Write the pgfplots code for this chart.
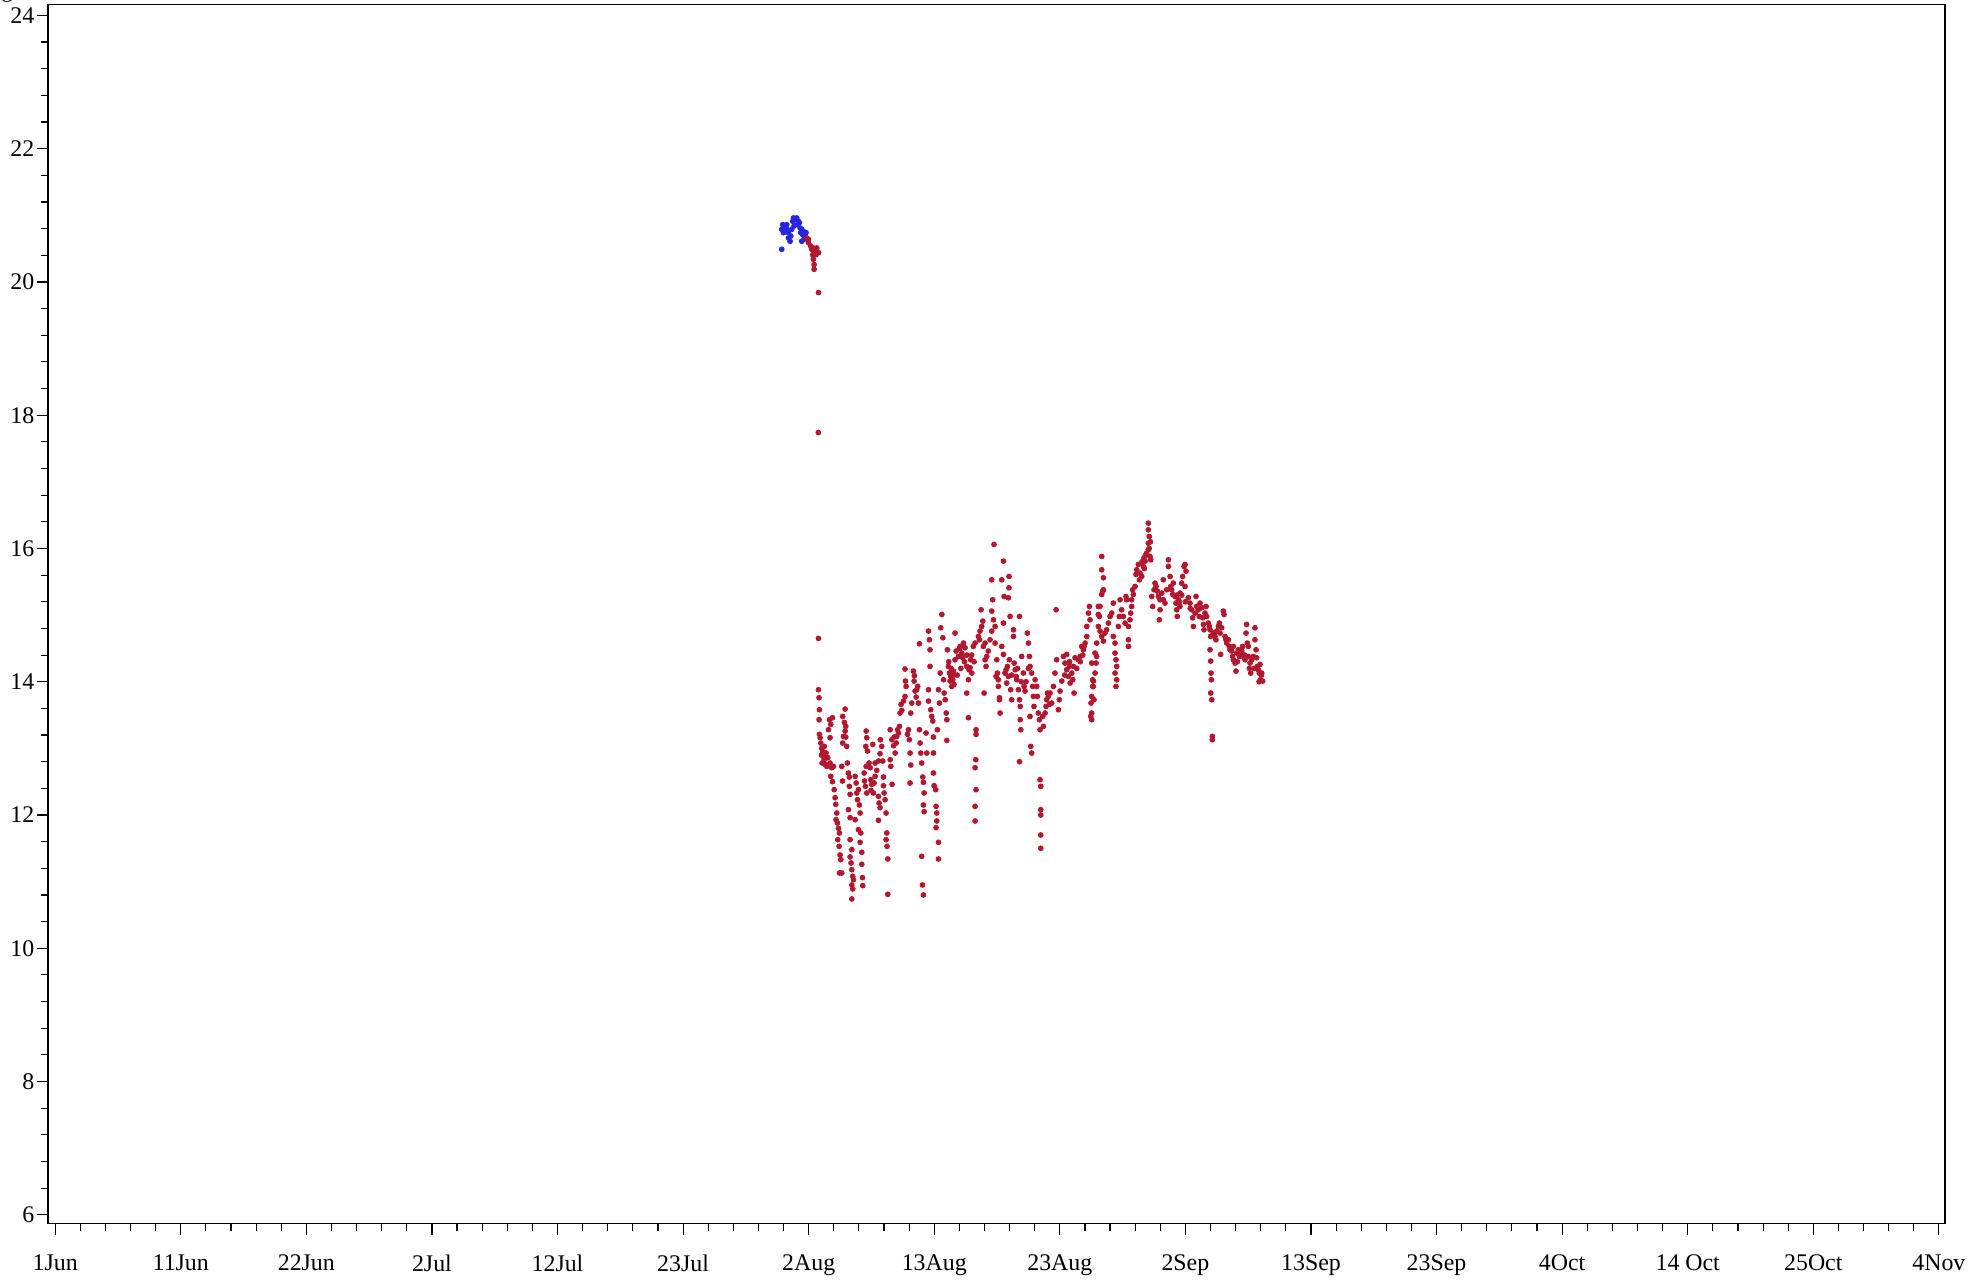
\documentclass[border=0pt]{standalone}
\usepackage{fontspec}
\setmainfont{Liberation Serif}
\usepackage{pgfplots}
\pgfplotsset{compat=1.18}

\definecolor{ptred}{RGB}{178,24,46}
\definecolor{ptblue}{RGB}{38,38,222}

% x = days since 1 Jun, y = value
\pgfplotstableread{
x y
60.17 20.49
60.17 20.79
60.25 20.86
60.31 20.74
60.45 20.84
60.58 20.79
60.58 20.86
60.72 20.74
60.72 20.66
60.86 20.61
60.92 20.69
61.00 20.79
61.08 20.91
61.14 20.96
61.27 20.94
61.41 20.96
61.55 20.91
61.63 20.89
61.69 20.81
61.74 20.74
61.83 20.79
61.91 20.71
61.96 20.76
62.10 20.69
62.18 20.74
61.83 20.61
62.00 20.64
61.19 20.84
61.47 20.86
}\bluedata

\pgfplotstableread{
x y
62.24 20.66
62.38 20.64
62.38 20.59
62.57 20.54
62.65 20.49
62.79 20.51
62.93 20.46
63.07 20.51
63.21 20.44
63.01 20.41
62.74 20.41
62.79 20.34
62.85 20.26
62.85 20.19
63.21 19.84
63.20 17.74
63.21 14.65
63.21 13.88
63.26 13.76
63.29 13.58
63.26 13.43
63.29 13.21
63.35 13.16
63.40 13.08
63.48 13.00
63.57 12.95
63.46 12.90
63.62 12.88
63.68 12.83
63.51 12.78
63.76 12.76
63.90 12.73
63.84 12.93
63.98 12.86
64.17 12.78
64.31 12.71
64.45 12.73
63.70 13.03
64.12 13.43
64.23 13.36
64.37 13.46
64.04 13.28
64.17 13.16
64.23 12.58
64.37 12.50
64.51 12.38
64.59 12.26
64.64 12.16
64.73 12.03
64.78 11.88
64.87 11.80
64.95 11.73
64.81 11.63
64.92 11.53
65.00 11.40
65.06 11.33
64.95 11.13
65.14 11.13
64.67 11.93
65.42 13.59
65.22 13.48
65.36 13.39
65.47 13.33
65.42 13.26
65.28 13.18
65.47 13.17
65.22 13.08
65.55 13.03
65.14 12.73
65.20 12.51
65.61 12.78
65.69 12.63
65.77 12.57
65.77 12.43
65.83 12.31
65.69 12.08
65.83 11.96
65.83 11.63
65.97 11.48
65.83 11.37
65.91 11.28
65.97 11.18
66.05 11.08
65.97 10.95
66.05 10.89
65.97 10.74
66.11 11.03
66.25 12.58
66.33 12.48
66.38 12.33
66.44 12.23
66.25 11.93
66.60 12.15
66.66 12.03
66.52 11.78
66.72 11.73
66.66 11.59
66.80 11.44
66.80 11.26
66.86 11.06
66.88 10.94
66.52 12.38
67.16 13.26
67.21 13.16
67.13 13.03
67.27 12.96
67.40 12.78
67.16 12.73
66.99 12.63
67.02 12.51
67.10 12.43
67.21 12.33
67.49 12.71
67.71 13.06
67.54 12.53
67.62 12.46
67.57 12.37
67.76 12.33
67.90 12.58
67.90 12.78
68.04 12.67
68.18 12.81
68.31 12.92
68.34 13.13
68.45 13.03
68.18 12.28
68.23 12.18
68.18 11.92
68.31 12.11
68.59 12.57
68.59 12.44
68.65 12.33
68.73 12.23
68.81 12.03
68.87 11.73
68.81 11.63
68.89 11.53
68.95 11.34
68.95 10.81
68.54 12.81
67.82 12.48
69.15 13.28
69.29 13.13
69.43 13.04
69.56 12.93
69.48 13.17
69.70 13.18
69.65 13.08
69.83 13.23
69.92 13.33
69.76 13.28
69.15 12.83
69.20 12.73
69.31 12.46
69.97 13.53
70.11 13.57
70.05 13.66
70.25 13.71
70.38 13.78
70.47 13.93
70.41 14.01
70.38 14.19
70.66 13.28
70.58 13.21
70.74 13.13
70.80 12.93
70.85 12.75
70.80 12.48
71.07 14.16
71.13 14.01
71.21 13.86
71.30 13.77
71.35 13.88
71.43 13.93
71.16 14.09
70.94 13.68
70.85 13.53
71.57 14.57
71.49 13.68
71.57 13.28
71.63 13.08
71.68 12.93
71.76 12.78
71.85 12.57
71.90 12.49
71.96 12.33
71.90 12.15
71.96 12.05
71.76 11.38
71.82 10.95
71.90 10.80
72.18 12.93
72.12 13.23
72.32 14.76
72.40 14.63
72.45 14.48
72.45 14.23
72.32 13.88
72.32 13.71
72.51 13.58
72.59 13.48
72.68 13.41
72.73 13.17
72.73 12.93
72.73 12.63
72.79 12.44
72.92 12.38
72.95 12.13
73.01 12.03
73.01 11.91
72.95 11.81
73.15 11.59
73.15 11.34
73.06 13.28
73.23 13.68
73.29 14.13
73.34 14.81
73.43 15.01
73.51 14.66
73.15 13.88
73.57 14.03
73.62 13.83
73.71 13.73
73.79 13.53
73.84 13.12
73.84 13.43
73.97 14.23
74.06 14.13
74.11 14.01
74.25 13.93
74.39 14.16
74.52 14.33
74.61 14.46
74.52 14.73
73.89 14.48
74.17 14.08
74.33 14.03
74.44 13.96
74.80 14.38
74.94 14.53
75.08 14.43
75.22 14.58
75.35 14.51
75.49 14.23
75.63 14.03
75.77 14.21
75.82 14.33
76.04 14.53
76.18 14.58
75.49 13.83
75.63 13.46
76.26 13.28
76.26 13.21
76.24 12.83
76.18 12.71
76.26 12.38
76.18 12.13
76.18 11.91
75.16 14.36
75.68 14.18
75.91 14.13
74.00 14.30
74.20 14.20
74.70 14.10
75.00 14.20
75.30 14.30
75.50 14.40
75.90 14.40
76.10 14.30
74.40 14.10
74.90 14.50
76.46 14.68
76.59 14.76
76.73 14.83
76.82 14.91
76.68 15.08
76.87 14.53
77.01 14.33
77.09 14.23
77.15 14.38
77.01 14.58
76.93 13.83
76.54 14.63
77.28 14.46
77.42 14.63
77.56 14.76
77.56 15.06
77.64 15.23
77.56 15.53
77.75 16.06
77.70 14.93
77.84 14.83
77.84 14.58
77.98 14.33
78.03 14.13
78.11 14.03
78.11 13.93
78.20 13.73
78.25 13.53
78.20 13.76
77.92 14.08
78.39 15.53
78.53 15.81
78.58 15.28
78.53 14.88
78.39 14.53
78.53 14.41
78.66 14.13
78.80 13.98
78.86 14.23
78.94 14.08
79.02 14.33
78.94 15.26
78.99 15.41
78.99 15.58
79.08 14.98
79.13 13.88
79.21 13.73
78.75 14.18
79.36 14.78
79.36 14.68
79.42 14.28
79.50 14.18
79.64 14.03
79.77 13.88
79.86 13.73
79.92 13.63
79.92 13.43
79.97 13.28
79.86 12.80
79.86 14.98
80.04 14.38
80.18 14.13
80.24 13.93
80.32 13.86
79.58 14.08
79.20 14.10
79.70 14.20
80.00 14.00
80.40 14.00
80.60 14.20
80.51 14.73
80.60 14.58
80.68 14.38
80.73 14.23
80.87 14.13
80.95 13.93
81.01 13.78
81.06 13.63
80.73 13.48
80.79 13.03
80.87 12.93
81.29 13.93
81.34 13.78
81.42 13.53
81.51 13.43
81.56 13.28
81.56 12.53
81.62 12.43
81.62 12.08
81.62 12.00
81.62 11.70
81.62 11.50
81.15 14.03
81.78 13.48
81.84 13.33
81.98 13.53
82.06 13.63
82.11 13.73
82.25 13.78
82.39 13.83
82.53 13.68
82.67 13.93
82.80 14.13
82.89 15.08
82.94 14.33
83.08 13.58
83.16 13.73
83.22 13.86
83.36 14.01
82.34 13.66
82.17 13.83
83.50 14.38
83.63 14.28
83.77 14.18
83.91 14.08
83.77 14.41
84.05 13.98
84.19 14.13
84.33 14.23
84.46 14.36
84.38 13.83
83.99 14.23
84.27 14.03
83.60 14.10
84.00 14.30
84.60 14.20
84.90 14.30
85.10 14.40
84.74 14.33
84.88 14.38
85.01 14.53
85.15 14.48
85.29 14.58
85.43 14.68
85.43 14.83
85.57 15.03
85.65 15.13
85.70 14.93
85.84 14.28
85.92 14.03
85.97 13.93
86.03 13.73
85.84 13.53
85.84 13.43
86.11 14.43
86.25 14.58
86.39 15.13
86.39 15.01
85.21 14.53
86.67 15.88
86.67 15.68
86.81 15.56
86.75 15.36
86.67 15.31
86.53 15.13
86.48 14.98
86.39 14.83
86.53 14.76
86.67 14.68
86.81 14.61
86.94 14.73
87.08 14.78
87.22 14.88
87.36 14.98
86.81 15.38
86.25 14.38
86.20 14.28
86.12 14.13
85.98 14.01
85.92 13.93
85.84 13.78
85.78 13.68
85.76 13.48
87.50 15.03
87.63 15.18
87.63 14.68
87.77 14.58
87.77 14.43
87.85 14.33
87.91 14.23
87.77 14.13
87.91 14.03
87.85 13.93
88.05 14.83
88.13 14.98
88.19 15.23
88.32 15.08
88.46 14.98
88.60 14.88
88.68 15.28
88.74 15.23
88.88 14.83
88.88 14.63
88.88 14.53
89.01 14.93
89.07 15.03
89.15 15.13
89.15 15.23
89.29 15.31
89.23 15.38
89.43 15.43
89.51 15.61
89.57 15.68
89.70 15.76
89.79 15.53
89.84 15.63
89.98 15.58
90.12 15.73
90.26 15.81
90.17 15.86
90.39 15.93
90.53 15.98
90.53 16.08
90.61 16.18
90.53 16.28
90.53 16.38
90.67 15.88
90.73 15.83
90.00 15.80
90.30 15.90
90.60 16.00
90.70 16.10
90.20 15.70
90.81 15.28
90.89 15.13
91.00 15.38
91.08 15.48
91.17 15.43
91.28 15.36
91.36 15.28
91.50 15.23
91.50 15.08
91.44 14.93
91.64 15.33
91.77 15.23
91.77 15.53
91.91 15.18
92.05 15.38
92.19 15.83
92.19 15.73
92.33 15.58
92.38 15.43
92.46 15.38
92.55 15.31
92.60 15.48
92.74 15.28
92.82 15.18
92.88 15.08
92.93 14.98
93.02 15.23
93.15 15.33
93.29 15.48
93.37 15.58
93.49 15.73
93.57 15.76
93.65 15.66
93.57 15.43
93.15 15.13
92.90 15.30
93.10 15.20
93.30 15.30
93.60 15.20
94.00 15.10
93.84 15.26
93.98 15.18
94.12 15.08
94.20 14.96
94.26 14.83
94.40 15.03
94.48 15.28
94.53 15.13
94.67 15.08
94.75 14.98
94.81 15.18
94.95 15.11
95.03 14.96
95.09 14.86
95.14 14.78
95.22 15.03
95.31 15.13
95.36 14.98
95.50 14.88
95.58 14.83
95.64 14.78
95.69 14.68
95.64 14.48
95.69 14.31
95.72 14.13
95.75 14.03
95.69 13.83
95.78 13.73
95.83 13.18
95.83 13.13
95.91 14.73
96.05 14.68
96.13 14.63
96.19 14.76
96.33 14.83
96.41 14.88
96.47 14.73
96.52 14.41
96.60 14.81
96.74 15.06
96.80 15.01
96.88 14.68
96.96 14.63
97.02 14.58
97.16 14.63
97.24 14.53
97.29 14.48
97.43 14.46
97.51 14.38
97.57 14.33
97.71 14.28
97.79 14.16
97.57 14.53
97.85 14.43
97.98 14.48
98.07 14.38
98.12 14.43
98.26 14.46
98.34 14.53
98.40 14.38
98.54 14.33
98.62 14.73
98.67 14.86
98.73 14.58
98.81 14.53
98.81 14.38
98.95 14.28
99.01 14.13
99.09 14.33
99.23 14.38
99.36 14.81
99.36 14.63
99.45 14.48
99.50 14.36
99.56 14.23
99.64 14.18
99.72 14.13
99.78 14.26
99.92 14.13
100.00 14.01
99.83 14.03
97.90 14.30
98.50 14.40
98.90 14.20
99.30 14.20
99.70 14.00
99.90 14.10
99.50 14.20
}\reddata

\begin{document}
\begin{tikzpicture}
\useasboundingbox (0,0) rectangle (873pt,563.6pt);
\begin{axis}[
  at={(21.1pt,25.1pt)}, anchor=south west,
  width=834.7pt, height=536.4pt, scale only axis,
  xmin=-0.6, xmax=156.5,
  ymin=5.865, ymax=24.16,
  xtick={0,10.4,20.8,31.2,41.6,52,62.4,72.8,83.2,93.6,104,114.4,124.8,135.2,145.6,156},
  xticklabels={1Jun,11Jun,22Jun,2Jul,12Jul,23Jul,2Aug,13Aug,23Aug,2Sep,13Sep,23Sep,4Oct,14 Oct,25Oct,4Nov},
  ytick={6,8,...,24},
  minor x tick num=4, minor y tick num=4,
  tick align=outside, tick pos=left,
  major tick length=5pt, minor tick length=3pt,
  axis line style={line width=0.6pt},
  tick style={line width=0.5pt, black},
  ticklabel style={font=\fontsize{10.5}{12}\selectfont},
  xticklabel style={yshift=-5pt},
  yticklabel style={xshift=2.5pt},
  /pgf/number format/assume math mode=true,
  clip=false,
]
\addplot[only marks, mark=*, mark size=1.05pt, ptblue, mark options={draw=none, fill=ptblue}] table {\bluedata};
\addplot[only marks, mark=*, mark size=1.05pt, ptred, mark options={draw=none, fill=ptred}] table {\reddata};
\end{axis}
\node[anchor=base west, inner sep=0pt, font=\fontsize{10}{12}\selectfont] at (0.5pt,564.6pt) {g};
\end{tikzpicture}
\end{document}
